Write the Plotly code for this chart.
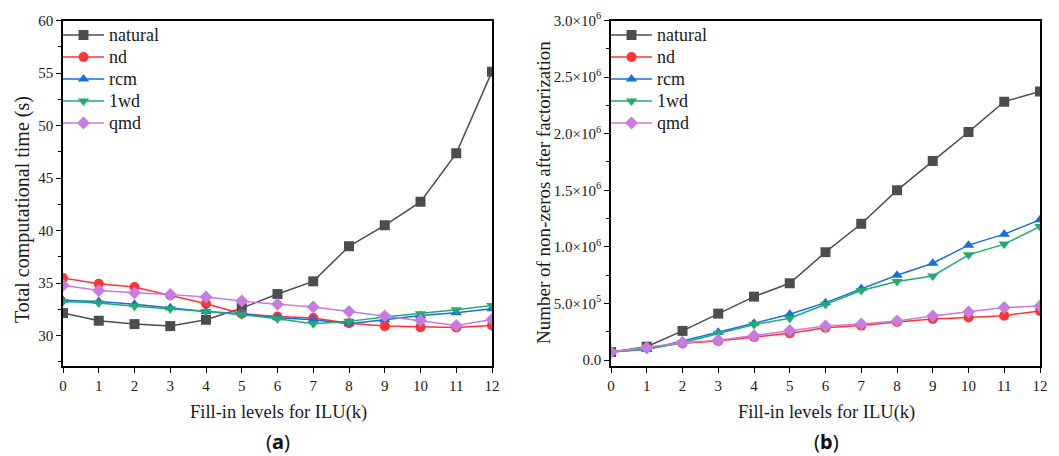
import numpy as np
import plotly.graph_objects as go

levels = list(range(13))
series_names = ["natural", "nd", "rcm", "1wd", "qmd"]

time_natural = [32.14, 31.41, 31.09, 30.9, 31.5, 32.61, 33.95, 35.16, 38.5, 40.5, 42.73, 47.35, 55.13]
time_nd = [35.48, 34.94, 34.62, 33.83, 33.03, 32.08, 31.82, 31.66, 31.18, 30.9, 30.8, 30.77, 30.96]
time_rcm = [33.35, 33.25, 32.97, 32.65, 32.3, 32.08, 31.7, 31.5, 31.12, 31.5, 31.9, 32.17, 32.55]
time_1wd = [33.25, 33.1, 32.78, 32.55, 32.3, 31.98, 31.6, 31.12, 31.35, 31.76, 32.08, 32.46, 32.87]
time_qmd = [34.78, 34.3, 34.08, 33.92, 33.67, 33.28, 32.97, 32.71, 32.3, 31.85, 31.44, 30.96, 31.53]

nnz_natural = [71000, 118000, 257000, 410000, 560000, 678000, 953000, 1204000, 1499000, 1758000, 2015000, 2283000, 2372000]
nnz_nd = [71000, 109000, 147000, 168000, 204000, 236000, 286000, 304000, 336000, 363000, 375000, 392000, 434000]
nnz_rcm = [71000, 94000, 168000, 245000, 324000, 404000, 507000, 631000, 749000, 855000, 1015000, 1112000, 1239000]
nnz_1wd = [71000, 94000, 153000, 236000, 313000, 369000, 490000, 614000, 693000, 743000, 929000, 1024000, 1180000]
nnz_qmd = [71000, 109000, 153000, 174000, 215000, 260000, 301000, 319000, 345000, 389000, 425000, 463000, 478000]

nnz_tickvals = [0, 500000, 1000000, 1500000, 2000000, 2500000, 3000000]
nnz_mantissa = ["0.0", "5.0", "1.0", "1.5", "2.0", "2.5", "3.0"]
nnz_exponent = [None, "5", "6", "6", "6", "6", "6"]
nnz_ticktext = [m if e is None else m + "×10<sup>" + e + "</sup>"
                for m, e in zip(nnz_mantissa, nnz_exponent)]

colors = ["#4d4d4d", "#ff3333", "#1a6fdf", "#20ad6c", "#c77ce0"]
symbols = ["square", "circle", "triangle-up", "triangle-down", "diamond"]

W, H = 1059, 456
def px(x):
    return x / W
def py(y):
    return 1 - y / H

FONT = "Liberation Serif, Times New Roman, serif"
TXT = "#1a1a1a"

fig = go.Figure()
time_data = [time_natural, time_nd, time_rcm, time_1wd, time_qmd]
nnz_data = [nnz_natural, nnz_nd, nnz_rcm, nnz_1wd, nnz_qmd]
for sub, data, leg in (("", time_data, "legend"), ("2", nnz_data, "legend2")):
    for i, name in enumerate(series_names):
        fig.add_trace(go.Scatter(
            x=levels, y=data[i], name='<span style="font-size:18px">' + name + '</span>',
            mode="lines+markers",
            line=dict(color=colors[i], width=1.5),
            marker=dict(symbol=symbols[i], size=10, color=colors[i]),
            xaxis="x" + sub, yaxis="y" + sub, legend=leg))

axis_common = dict(showline=True, linecolor="black", linewidth=1.5, mirror=True,
                   ticks="outside", ticklen=5, tickwidth=1.2, tickcolor="black",
                   showgrid=False, zeroline=False, automargin=False,
                   tickfont=dict(family=FONT, size=15, color=TXT))

legend_common = dict(xanchor="left", yanchor="top", bgcolor="rgba(0,0,0,0)",
                     font=dict(family=FONT, size=14.6, color=TXT), tracegroupgap=0,
                     itemwidth=41)

fig.update_layout(
    width=W, height=H, margin=dict(l=0, r=0, t=0, b=0, autoexpand=False),
    paper_bgcolor="white", plot_bgcolor="white",
    font=dict(family=FONT, color=TXT),
    xaxis=dict(domain=[px(63), px(492)], range=[0, 12], dtick=1, tick0=0, anchor="y", **axis_common),
    yaxis=dict(domain=[py(366), py(20.5)], range=[27.1, 60], dtick=5, tick0=0, anchor="x",
               minor=dict(dtick=2.5, tick0=0, ticks="outside", ticklen=3, tickcolor="black"),
               **axis_common),
    xaxis2=dict(domain=[px(611), px(1040)], range=[0, 12], dtick=1, tick0=0, anchor="y2", **axis_common),
    yaxis2=dict(domain=[py(366), py(20.5)], range=[-53000, 3000000], tickmode="array",
                tickvals=nnz_tickvals, ticktext=nnz_ticktext, anchor="x2",
                minor=dict(tickmode="array", tickvals=list(np.arange(250000, 3000000, 500000)),
                           ticks="outside", ticklen=3, tickcolor="black"),
                **axis_common),
    legend=dict(x=px(58), y=py(19), **legend_common),
    legend2=dict(x=px(606), y=py(19), **legend_common),
    showlegend=True,
)

ann = []
ann.append(dict(text="Total computational time (s)", x=px(22), y=py(210), textangle=-90,
                font=dict(family=FONT, size=20, color=TXT)))
ann.append(dict(text="Number of non-zeros after factorization", x=px(543), y=py(193), textangle=-90,
                font=dict(family=FONT, size=19, color=TXT)))
ann.append(dict(text="Fill-in levels for ILU(k)", x=px(278), y=py(412),
                font=dict(family=FONT, size=18.5, color=TXT)))
ann.append(dict(text="Fill-in levels for ILU(k)", x=px(826), y=py(412),
                font=dict(family=FONT, size=18.5, color=TXT)))
ann.append(dict(text="(<b>a</b>)", x=px(278), y=py(441),
                font=dict(family="Noto Sans, sans-serif", size=20, color="#111")))
ann.append(dict(text="(<b>b</b>)", x=px(826), y=py(441),
                font=dict(family="Noto Sans, sans-serif", size=20, color="#111")))
for a in ann:
    a.update(xref="paper", yref="paper", showarrow=False, xanchor="center", yanchor="middle")
fig.update_layout(annotations=ann)

fig.write_html("out.html", config={"displayModeBar": False},
               post_script="document.body.style.margin='0';")
